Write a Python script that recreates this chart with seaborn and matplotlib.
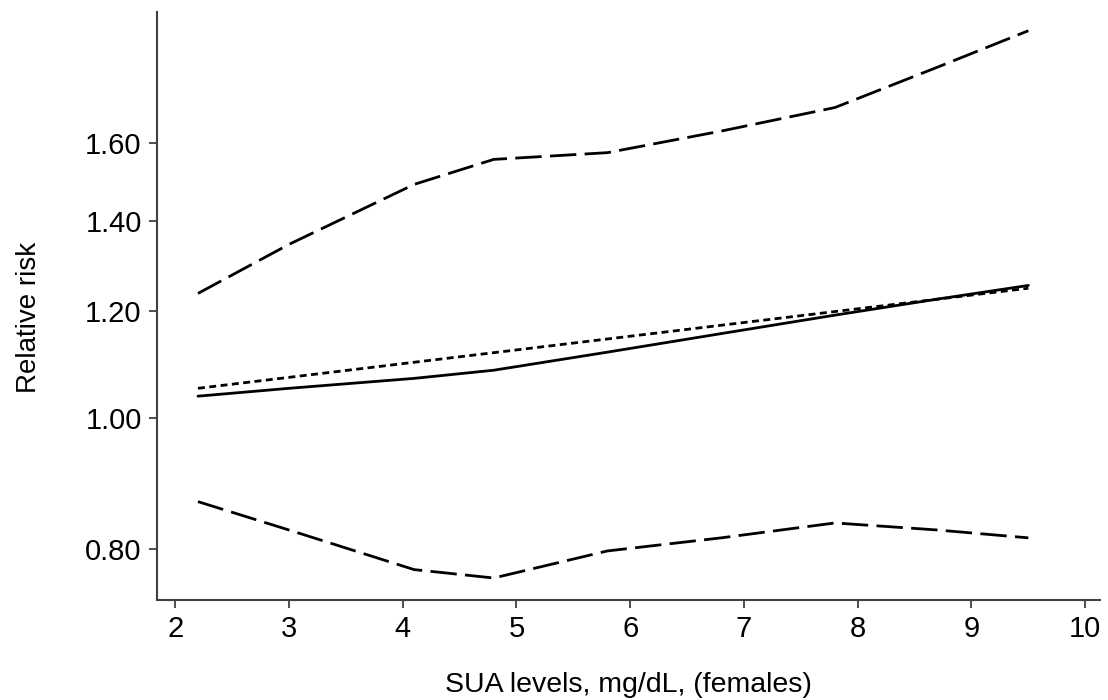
import numpy as np
import pandas as pd
import matplotlib
matplotlib.use("Agg")
import matplotlib.pyplot as plt
import seaborn as sns

# Data (relative risk, log-scaled y axis)
sua = [2.2, 3.0, 4.1, 4.8, 5.8, 6.8, 7.8, 8.7, 9.5]
rr_main = [1.038, 1.052, 1.070, 1.085, 1.119, 1.155, 1.192, 1.225, 1.254]
rr_upper = [1.237, 1.345, 1.490, 1.555, 1.573, 1.632, 1.699, 1.82, 1.937]
rr_lower = [0.867, 0.826, 0.772, 0.761, 0.797, 0.815, 0.836, 0.826, 0.815]
lin_x = [2.2, 9.5]
rr_linear = [1.052, 1.248]

x_ticks = [2, 3, 4, 5, 6, 7, 8, 9, 10]
y_ticks = [0.80, 1.00, 1.20, 1.40, 1.60]
y_tick_labels = ["0.80", "1.00", "1.20", "1.40", "1.60"]

sns.set_theme(style="ticks")
plt.rcParams['font.family'] = ['Liberation Sans', 'DejaVu Sans']

fig = plt.figure(figsize=(11.08, 7.0), dpi=100)
ax = fig.add_axes([0.1417, 0.1429, 0.8511, 0.8400])

df_main = pd.DataFrame({"x": sua, "y": rr_main})
df_up = pd.DataFrame({"x": sua, "y": rr_upper})
df_lo = pd.DataFrame({"x": sua, "y": rr_lower})
df_lin = pd.DataFrame({"x": lin_x, "y": rr_linear})

lw = 2.0
sns.lineplot(data=df_main, x="x", y="y", ax=ax, color="black", linewidth=lw)
sns.lineplot(data=df_lin, x="x", y="y", ax=ax, color="black", linewidth=lw,
             linestyle=(0, (2.5, 1.6)))
for d in (df_up, df_lo):
    sns.lineplot(data=d, x="x", y="y", ax=ax, color="black", linewidth=lw,
                 linestyle=(0, (9.5, 3.0)))

ax.set_yscale("log")
ax.set_xlim(1.84, 10.13)
ax.set_ylim(0.733, 2.0)
ax.set_xticks(x_ticks)
ax.set_xticklabels([str(v) for v in x_ticks])
ax.set_yticks(y_ticks)
ax.set_yticklabels(y_tick_labels)
ax.yaxis.set_minor_locator(matplotlib.ticker.NullLocator())

for s in ["top", "right"]:
    ax.spines[s].set_visible(False)
for s in ["left", "bottom"]:
    ax.spines[s].set_color("#404040")
    ax.spines[s].set_linewidth(1.5)

ax.tick_params(axis="both", which="major", direction="out", length=6,
               width=1.3, color="#404040", labelsize=21, pad=5, labelcolor="black")

ax.set_xlabel("SUA levels, mg/dL, (females)", fontsize=20.5, color="black")
ax.set_ylabel("Relative risk", fontsize=20, color="black")
ax.xaxis.set_label_coords(0.5, -0.122)
ax.yaxis.set_label_coords(-0.122, 0.48)

fig.savefig("out.png", dpi=100, facecolor="white")
